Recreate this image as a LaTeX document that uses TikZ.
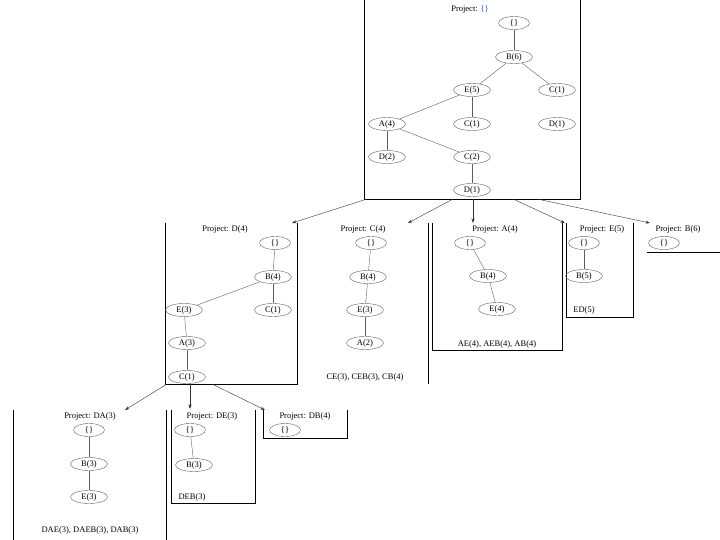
\documentclass[tikz,border=0pt]{standalone}
\usepackage{fontspec}
\setmainfont{Liberation Serif}
\usetikzlibrary{shapes.geometric, arrows.meta}
\definecolor{cLine}{RGB}{95,95,95}
\definecolor{cBrace}{RGB}{40,95,175}
\tikzset{
	fpnode/.style   ={ellipse, draw=cLine, thin, minimum width=37pt, minimum height=13pt, inner sep=0pt},
	nullnode/.style ={fpnode, minimum width=31pt},
	projtitle/.style={inner sep=0pt},
	result/.style   ={inner sep=0pt},
	link/.style     ={draw=cLine, thin},
	boxline/.style  ={draw=black, line width=0.7pt},
	projarrow/.style={-{Stealth[length=4.5pt, width=3pt]}, draw=black!80, thin},
}
\begin{document}
\begin{tikzpicture}[x=1pt, y=-1pt, font=\fontsize{8.5}{10}\selectfont]
	\useasboundingbox (0,0) rectangle (720,540);
	% projection on {}
	\draw[boxline] (364,0) -- (364,199) -- (580,199) -- (580,0);
	\node[projtitle] (t0) at (470,9) {Project: \textcolor{cBrace}{\{\}}};
	\node[nullnode] (r0) at (514,23) {\{\}};
	\node[fpnode] (rB6) at (514,57) {B(6)};
	\node[fpnode] (rE5) at (472,90) {E(5)};
	\node[fpnode] (rC1a) at (557,90) {C(1)};
	\node[fpnode] (rA4) at (387,124) {A(4)};
	\node[fpnode] (rC1b) at (472,124) {C(1)};
	\node[fpnode] (rD1a) at (557,124) {D(1)};
	\node[fpnode] (rD2) at (387,157) {D(2)};
	\node[fpnode] (rC2) at (472,157) {C(2)};
	\node[fpnode] (rD1b) at (472,190) {D(1)};
	\draw[link] (r0) -- (rB6);
	\draw[link] (rB6) -- (rE5);
	\draw[link] (rB6) -- (rC1a);
	\draw[link] (rE5) -- (rA4);
	\draw[link] (rE5) -- (rC1b);
	\draw[link] (rA4) -- (rD2);
	\draw[link] (rA4) -- (rC2);
	\draw[link] (rC2) -- (rD1b);
	% arrows to the second level
	\coordinate (s1) at (367,199); \coordinate (e1) at (292,223);
	\coordinate (s2) at (453,199); \coordinate (e2) at (408,223);
	\coordinate (s3) at (473,199); \coordinate (e3) at (473,223);
	\coordinate (s4) at (513,199); \coordinate (e4) at (565,223);
	\coordinate (s5) at (537,199); \coordinate (e5) at (650,223);
	\foreach \i in {1,...,5}
		\draw[projarrow] (s\i) -- (e\i);
	% projection on D(4)
	\draw[boxline] (165,223) -- (165,384) -- (297,384) -- (297,223);
	\node[projtitle] (tD) at (225,229) {Project: D(4)};
	\node[nullnode] (d0) at (275,243) {\{\}};
	\node[fpnode] (dB4) at (273,277) {B(4)};
	\node[fpnode] (dE3) at (184,310) {E(3)};
	\node[fpnode] (dC1a) at (273,310) {C(1)};
	\node[fpnode] (dA3) at (187,343) {A(3)};
	\node[fpnode] (dC1b) at (187,377) {C(1)};
	\draw[link] (d0) -- (dB4);
	\draw[link] (dB4) -- (dE3);
	\draw[link] (dB4) -- (dC1a);
	\draw[link] (dE3) -- (dA3);
	\draw[link] (dA3) -- (dC1b);
	% projection on C(4)
	\draw[boxline] (428,223) -- (428,384);
	\node[projtitle] (tC) at (363,229) {Project: C(4)};
	\node[nullnode] (c0) at (371,243) {\{\}};
	\node[fpnode] (cB4) at (368,277) {B(4)};
	\node[fpnode] (cE3) at (365,310) {E(3)};
	\node[fpnode] (cA2) at (365,343) {A(2)};
	\node[result] (cRes) at (365,377) {CE(3), CEB(3), CB(4)};
	\draw[link] (c0) -- (cB4);
	\draw[link] (cB4) -- (cE3);
	\draw[link] (cE3) -- (cA2);
	% projection on A(4)
	\draw[boxline] (432,223) -- (432,350) -- (562,350) -- (562,223);
	\node[projtitle] (tA) at (495,229) {Project: A(4)};
	\node[nullnode] (a0) at (470,243) {\{\}};
	\node[fpnode] (aB4) at (488,276) {B(4)};
	\node[fpnode] (aE4) at (497,309) {E(4)};
	\node[result] (aRes) at (497,344) {AE(4), AEB(4), AB(4)};
	\draw[link] (a0) -- (aB4);
	\draw[link] (aB4) -- (aE4);
	% projection on E(5)
	\draw[boxline] (566,223) -- (566,317) -- (633,317) -- (633,223);
	\node[projtitle] (tE) at (602,229) {Project: E(5)};
	\node[nullnode] (e0) at (584,243) {\{\}};
	\node[fpnode] (eB5) at (584,276) {B(5)};
	\node[result] (eRes) at (584,310) {ED(5)};
	\draw[link] (e0) -- (eB5);
	% projection on B(6)
	\draw[boxline] (647,252) -- (720,252);
	\node[projtitle] (tB) at (678,229) {Project: B(6)};
	\node[nullnode] (b0) at (664,243) {\{\}};
	% arrows to the third level
	\coordinate (u1) at (167,384); \coordinate (v1) at (125,410);
	\coordinate (u2) at (190,384); \coordinate (v2) at (190,409);
	\coordinate (u3) at (212,384); \coordinate (v3) at (265,410);
	\foreach \i in {1,2,3}
		\draw[projarrow] (u\i) -- (v\i);
	% projection on DA(3)
	\draw[boxline] (13,410) -- (13,540);
	\draw[boxline] (166,410) -- (166,540);
	\node[projtitle] (tDA) at (90,416) {Project: DA(3)};
	\node[nullnode] (da0) at (89,430) {\{\}};
	\node[fpnode] (daB3) at (89,464) {B(3)};
	\node[fpnode] (daE3) at (89,497) {E(3)};
	\node[result] (daRes) at (90,530) {DAE(3), DAEB(3), DAB(3)};
	\draw[link] (da0) -- (daB3);
	\draw[link] (daB3) -- (daE3);
	% projection on DE(3)
	\draw[boxline] (171,410) -- (171,503) -- (255,503) -- (255,410);
	\node[projtitle] (tDE) at (212,416) {Project: DE(3)};
	\node[nullnode] (de0) at (190,430) {\{\}};
	\node[fpnode] (deB3) at (194,465) {B(3)};
	\node[result] (deRes) at (192,497) {DEB(3)};
	\draw[link] (de0) -- (deB3);
	% projection on DB(4)
	\draw[boxline] (263,410) -- (263,438) -- (347,438) -- (347,410);
	\node[projtitle] (tDB) at (305,416) {Project: DB(4)};
	\node[nullnode] (db0) at (285,430) {\{\}};
\end{tikzpicture}
\end{document}
